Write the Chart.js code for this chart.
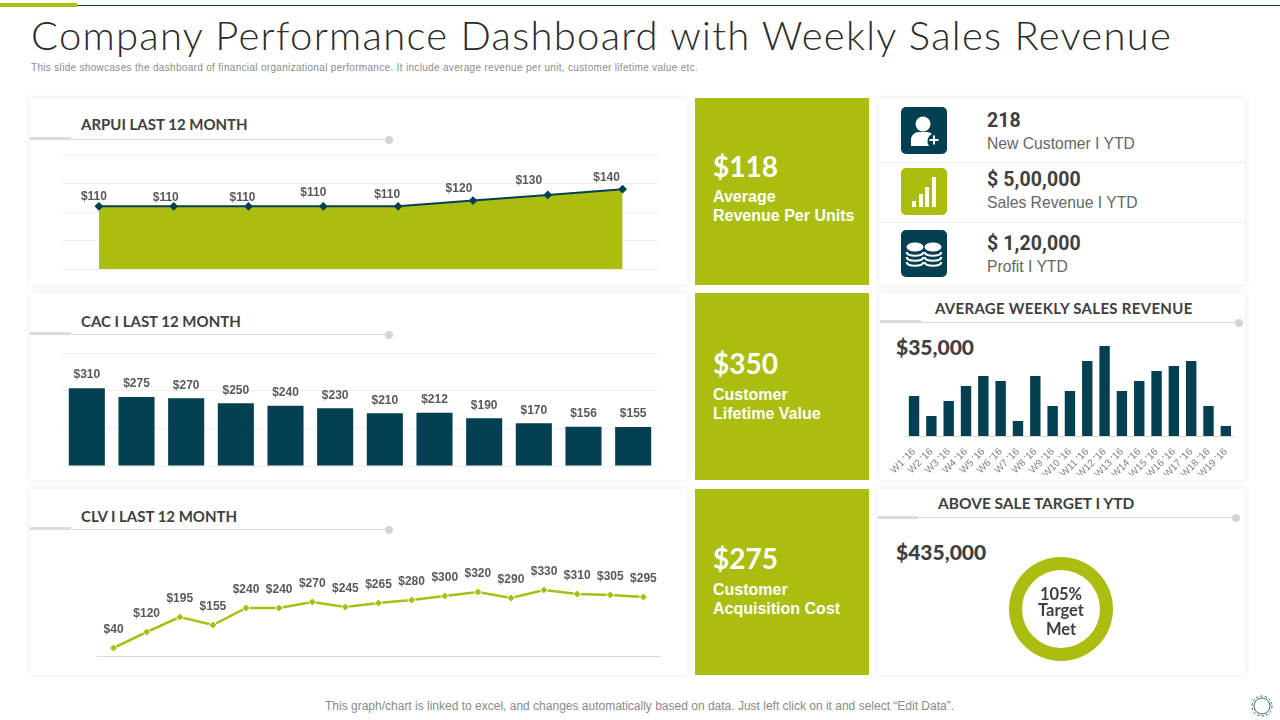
<!DOCTYPE html>
<html lang="en">
  <head>
    <meta charset="UTF-8" />
    <title>Company Performance Dashboard with Weekly Sales Revenue</title>
    <script src="https://cdn.jsdelivr.net/npm/chart.js"></script>
    <style>
      * { margin: 0; padding: 0; box-sizing: border-box; }
      html, body { width: 1280px; height: 720px; overflow: hidden; background: #fff; }
      body { position: relative; font-family: "Liberation Sans", Arial, sans-serif; }
      .t { position: absolute; white-space: nowrap; transform: translateY(-50%); line-height: 1; }
      .box { position: absolute; }
      .card { position: absolute; background: #fff; box-shadow: 0 0 6px rgba(0, 0, 0, 0.1); }
      .green { position: absolute; background: #abbe0f; left: 695px; width: 174px; }
      .head { font-family: Lato, sans-serif; font-weight: 700; font-size: 15px; color: #404040; }
      .big { font-family: Lato, sans-serif; font-weight: 700; font-size: 28px; color: #fff; left: 713px; }
      .sub { font-weight: 700; font-size: 16px; color: #fff; left: 713px; }
      .num { font-family: Roboto, sans-serif; font-weight: 700; font-size: 19.5px; color: #404040; left: 987px; letter-spacing: 0.1px; }
      .cap { font-size: 15.7px; color: #666; left: 987px; }
      .amt { font-family: Lato, sans-serif; font-weight: 900; font-size: 21px; color: #404040; left: 896px; }
      .ring { font-family: Lato, sans-serif; font-weight: 700; font-size: 16.5px; color: #404040; width: 80px; left: 1021px; text-align: center; }
      .rule { position: absolute; background: #dcdcdc; }
      .dot { position: absolute; width: 8px; height: 8px; border-radius: 50%; background: #d4d4d4; }
      .icon { position: absolute; left: 901px; width: 46px; height: 47px; border-radius: 5px; }
      canvas { position: absolute; }
    </style>
  </head>
  <body>
    <div class="box" style="left: 77px; top: 5px; width: 1203px; height: 1px; background: #044052"></div>
    <div class="box" style="left: 0; top: 3px; width: 77px; height: 4px; background: #abbe0f"></div>
    <div class="t" style="left: 31px; top: 35px; font-family: Lato, sans-serif; font-weight: 300; font-size: 40px; color: #2b2b2b; letter-spacing: 1.27px">Company Performance Dashboard with Weekly Sales Revenue</div>
    <div class="t" style="left: 31px; top: 68px; font-size: 10px; color: #8c8c8c; letter-spacing: 0.32px">This slide showcases the dashboard of financial organizational performance. It include average revenue per unit,  customer lifetime  value etc.</div>

    <div class="card" style="left: 30px; top: 98px; width: 657px; height: 187px"></div>
    <div class="card" style="left: 30px; top: 293px; width: 657px; height: 187px"></div>
    <div class="card" style="left: 30px; top: 489px; width: 657px; height: 186px"></div>
    <div class="card" style="left: 879px; top: 98px; width: 366px; height: 187px"></div>
    <div class="card" style="left: 879px; top: 293px; width: 366px; height: 187px"></div>
    <div class="card" style="left: 878px; top: 489px; width: 367px; height: 186px"></div>

    <div class="green" style="top: 98px; height: 187px"></div>
    <div class="green" style="top: 293px; height: 187px"></div>
    <div class="green" style="top: 489px; height: 186px"></div>

    <div class="t head" style="left: 81px; top: 123.500px">ARPUI LAST 12 MONTH</div>
    <div class="rule" style="left: 30px; top: 137px; width: 41px; height: 3px"></div>
    <div class="rule" style="left: 71px; top: 139px; width: 318px; height: 1px"></div>
    <div class="dot" style="left: 385px; top: 136px"></div>

    <div class="t head" style="left: 81px; top: 320.500px">CAC I LAST 12 MONTH</div>
    <div class="rule" style="left: 30px; top: 332px; width: 41px; height: 3px"></div>
    <div class="rule" style="left: 71px; top: 334px; width: 318px; height: 1px"></div>
    <div class="dot" style="left: 385px; top: 331px"></div>

    <div class="t head" style="left: 81px; top: 515.500px">CLV I LAST 12 MONTH</div>
    <div class="rule" style="left: 30px; top: 527px; width: 41px; height: 3px"></div>
    <div class="rule" style="left: 71px; top: 529px; width: 318px; height: 1px"></div>
    <div class="dot" style="left: 385px; top: 526px"></div>

    <div class="t big" style="top: 166px">$118</div>
    <div class="t sub" style="top: 197px">Average</div>
    <div class="t sub" style="top: 216px">Revenue Per Units</div>
    <div class="t big" style="top: 363px">$350</div>
    <div class="t sub" style="top: 395px">Customer</div>
    <div class="t sub" style="top: 414px">Lifetime Value</div>
    <div class="t big" style="top: 558px">$275</div>
    <div class="t sub" style="top: 590px">Customer</div>
    <div class="t sub" style="top: 609px">Acquisition Cost</div>

    <!-- KPI list, top right -->
    <div class="box" style="left: 879px; top: 162px; width: 366px; height: 1px; background: #eee"></div>
    <div class="box" style="left: 879px; top: 222px; width: 366px; height: 1px; background: #eee"></div>
    <svg class="icon" style="top: 107px; background: #044052" viewBox="0 0 46 47">
      <circle cx="22" cy="17" r="7.500" fill="#fff" />
      <path d="M10 39v-6c0-5 4-8 8-8h8c2 0 4 1 5 2a8 8 0 0 0-3 12z" fill="#fff" />
      <circle cx="33" cy="33" r="6" fill="#044052" />
      <path d="M33 28.500v9M28.500 33h9" stroke="#fff" stroke-width="2" />
    </svg>
    <svg class="icon" style="top: 168px; background: #abbe0f" viewBox="0 0 46 47">
      <rect x="11" y="33" width="4" height="6" fill="#fff" />
      <rect x="18" y="26" width="4" height="13" fill="#fff" />
      <rect x="24" y="19" width="4" height="20" fill="#fff" />
      <rect x="31" y="9" width="4" height="30" fill="#fff" />
    </svg>
    <svg class="icon" style="top: 230px; background: #044052" viewBox="0 0 46 47" fill="none" stroke="#fff" stroke-width="2">
      <ellipse cx="14" cy="17" rx="8.500" ry="4.500" fill="#fff" stroke="none" />
      <ellipse cx="32" cy="17" rx="8.500" ry="4.500" fill="#fff" stroke="none" />
      <path d="M5.500 22c1 5 16 5 17 0M5.500 27c1 5 16 5 17 0M5.500 32c1 5 16 5 17 0" />
      <path d="M23.500 22c1 5 16 5 17 0M23.500 27c1 5 16 5 17 0M23.500 32c1 5 16 5 17 0" />
    </svg>
    <div class="t num" style="top: 121px">218</div>
    <div class="t cap" style="top: 144px">New Customer I YTD</div>
    <div class="t num" style="top: 180px">$ 5,00,000</div>
    <div class="t cap" style="top: 203px">Sales Revenue I YTD</div>
    <div class="t num" style="top: 244px">$ 1,20,000</div>
    <div class="t cap" style="top: 267px">Profit I YTD</div>

    <div class="t head" style="left: 935px; top: 307.500px; letter-spacing: 0.3px">AVERAGE WEEKLY SALES REVENUE</div>
    <div class="rule" style="left: 880px; top: 320px; width: 41px; height: 3px"></div>
    <div class="rule" style="left: 921px; top: 322px; width: 318px; height: 1px"></div>
    <div class="dot" style="left: 1235px; top: 319px"></div>
    <div class="t amt" style="top: 346px">$35,000</div>

    <div class="t head" style="left: 938px; top: 503.500px; font-size: 15.500px">ABOVE SALE TARGET I YTD</div>
    <div class="rule" style="left: 878px; top: 516px; width: 40px; height: 3px"></div>
    <div class="rule" style="left: 918px; top: 517px; width: 318px; height: 1px"></div>
    <div class="dot" style="left: 1232px; top: 514px"></div>
    <div class="t amt" style="top: 551px">$435,000</div>

    <canvas id="arpuChart" width="640" height="150" style="left: 40px; top: 140px"></canvas>
    <canvas id="cacChart" width="640" height="130" style="left: 40px; top: 345px"></canvas>
    <canvas id="clvChart" width="600" height="140" style="left: 80px; top: 530px"></canvas>
    <canvas id="weeklyChart" width="350" height="145" style="left: 890px; top: 330px"></canvas>
    <canvas id="targetChart" width="104" height="104" style="left: 1009px; top: 557px"></canvas>

    <div class="t ring" style="top: 594px">105%</div>
    <div class="t ring" style="top: 610px">Target</div>
    <div class="t ring" style="top: 629px">Met</div>

    <div class="t" style="left: 325px; top: 706px; font-size: 12px; color: #8a8a8a">This graph/chart is linked to excel,  and changes automatically based on data. Just left click on it and select “Edit Data”.</div>
    <svg class="box" style="left: 1251px; top: 695px" width="22" height="22" viewBox="0 0 22 22" fill="none" stroke="#2f6b80" stroke-width="1">
      <circle cx="11" cy="11" r="8" />
      <circle cx="11" cy="11" r="10" stroke-dasharray="2.500 2" />
    </svg>

    <script>
      const arpuMonths = ["M1", "M2", "M3", "M4", "M5", "M6", "M7", "M8"];
      const arpuValues = [110, 110, 110, 110, 110, 120, 130, 140];

      const cacMonths = ["M1", "M2", "M3", "M4", "M5", "M6", "M7", "M8", "M9", "M10", "M11", "M12"];
      const cacValues = [310, 275, 270, 250, 240, 230, 210, 212, 190, 170, 156, 155];

      const clvPeriods = ["P1", "P2", "P3", "P4", "P5", "P6", "P7", "P8", "P9", "P10", "P11", "P12", "P13", "P14", "P15", "P16", "P17"];
      const clvValues = [40, 120, 195, 155, 240, 240, 270, 245, 265, 280, 300, 320, 290, 330, 310, 305, 295];

      const weekLabels = ["W1 '16", "W2 '16", "W3 '16", "W4 '16", "W5 '16", "W6 '16", "W7 '16", "W8 '16", "W9 '16", "W10 '16", "W11 '16", "W12 '16", "W13 '16", "W14 '16", "W15 '16", "W16 '16", "W17 '16", "W18 '16", "W19 '16"];
      const weekValues = [8, 4, 7, 10, 12, 11, 3, 12, 6, 9, 15, 18, 9, 11, 13, 14, 15, 6, 2];

      const targetLabels = ["Target met"];
      const targetValues = [105];

      const GREEN = "#abbe0f";
      const TEAL = "#044052";
      const GRID = "#efefef";

      // draws "$value" above each mark, the slide has them hand-nudged on the first chart
      const valueLabels = {
        id: "valueLabels",
        afterDatasetsDraw(chart, args, opts) {
          if (!opts.show) return;
          const ctx = chart.ctx;
          const points = chart.getDatasetMeta(0).data;
          ctx.save();
          ctx.font = "bold 12px 'Liberation Sans'";
          ctx.fillStyle = "#595959";
          ctx.textAlign = "center";
          ctx.textBaseline = "middle";
          points.forEach((p, i) => {
            const dx = opts.dx ? opts.dx[i] : 0;
            const dy = opts.dy ? opts.dy[i] : opts.lift;
            ctx.fillText("$" + chart.data.datasets[0].data[i], p.x + dx, p.y + dy);
          });
          ctx.restore();
        },
      };
      Chart.register(valueLabels);
      Chart.defaults.animation = false;
      Chart.defaults.responsive = false;
      Chart.defaults.plugins.legend.display = false;
      Chart.defaults.plugins.tooltip.enabled = false;

      function flatAxis(max, step, gridOn) {
        return {
          min: 0,
          max: max,
          ticks: { display: false, stepSize: step },
          grid: { display: gridOn, color: GRID, drawTicks: false },
          border: { display: false },
        };
      }

      new Chart(document.getElementById("arpuChart"), {
        type: "line",
        data: {
          labels: arpuMonths,
          datasets: [
            {
              data: arpuValues,
              fill: "origin",
              backgroundColor: GREEN,
              borderColor: TEAL,
              borderWidth: 2,
              tension: 0,
              pointStyle: "rectRot",
              pointRadius: 3,
              pointBackgroundColor: TEAL,
              pointBorderColor: TEAL,
            },
          ],
        },
        options: {
          layout: { padding: { left: 21.5, right: 20, top: 15, bottom: 21 } },
          scales: {
            x: { display: false, offset: true },
            y: flatAxis(200, 50, true),
          },
          plugins: {
            valueLabels: {
              show: true,
              dx: [-5, -8, -6, -10, -11, -14, -19, -16],
              dy: [-10, -9, -9, -14, -12, -12, -14, -12],
            },
          },
        },
      });

      new Chart(document.getElementById("cacChart"), {
        type: "bar",
        data: {
          labels: cacMonths,
          datasets: [
            {
              data: cacValues,
              backgroundColor: TEAL,
              barPercentage: 0.726,
              categoryPercentage: 1,
            },
          ],
        },
        options: {
          layout: { padding: { left: 22, right: 22, top: 8, bottom: 9 } },
          scales: {
            x: { display: false },
            y: flatAxis(450, 150, true),
          },
          plugins: { valueLabels: { show: true, lift: -13 } },
        },
      });

      new Chart(document.getElementById("clvChart"), {
        type: "line",
        data: {
          labels: clvPeriods,
          datasets: [
            {
              data: clvValues,
              borderColor: GREEN,
              borderWidth: 2.5,
              tension: 0,
              pointStyle: "rectRot",
              pointRadius: 4,
              pointBackgroundColor: GREEN,
              pointBorderColor: "#fff",
              pointBorderWidth: 1,
            },
          ],
        },
        options: {
          layout: { padding: { left: 17, right: 20, top: 26, bottom: 14 } },
          scales: {
            x: {
              offset: true,
              ticks: { display: false },
              grid: { display: false, drawTicks: false },
              border: { color: "#d9d9d9" },
            },
            y: flatAxis(500, 100, false),
          },
          plugins: { valueLabels: { show: true, lift: -18 } },
        },
      });

      new Chart(document.getElementById("weeklyChart"), {
        type: "bar",
        data: {
          labels: weekLabels,
          datasets: [
            {
              data: weekValues,
              backgroundColor: TEAL,
              barPercentage: 0.6,
              categoryPercentage: 1,
            },
          ],
        },
        options: {
          layout: { padding: { left: 10, right: 5.5, top: 6, bottom: 0 } },
          scales: {
            x: {
              afterFit(scale) {
                scale.height = 39;
              },
              ticks: {
                autoSkip: false,
                minRotation: 45,
                maxRotation: 45,
                padding: 2,
                color: "#808080",
                font: { family: "'Liberation Sans'", size: 10 },
              },
              grid: { display: false },
              border: { color: "#d9d9d9" },
            },
            y: flatAxis(20, 5, false),
          },
        },
      });

      new Chart(document.getElementById("targetChart"), {
        type: "doughnut",
        data: {
          labels: targetLabels,
          datasets: [{ data: targetValues, backgroundColor: [GREEN], borderWidth: 0 }],
        },
        options: { cutout: "75%" },
      });
    </script>
  </body>
</html>
